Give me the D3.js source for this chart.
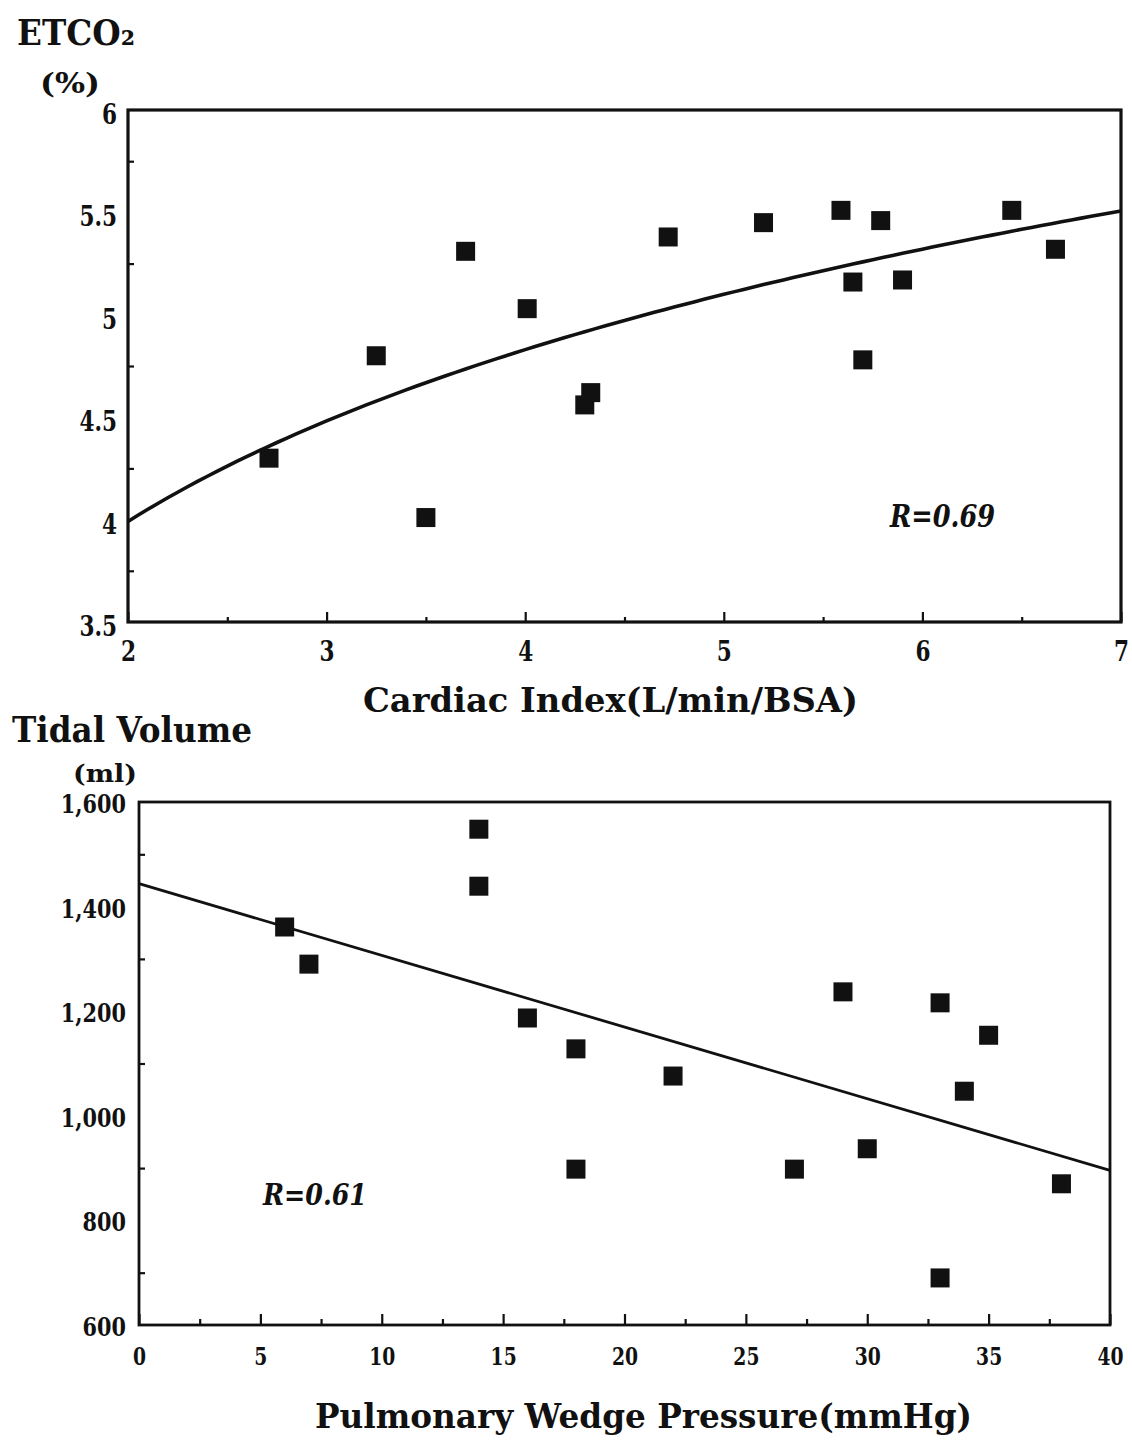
<!DOCTYPE html>
<html>
<head>
<meta charset="utf-8">
<script src="https://cdn.jsdelivr.net/npm/d3@7"></script>
<style>
  html, body { margin: 0; padding: 0; background: #fff; }
  svg { display: block; }
  text { font-family: "DejaVu Serif", serif; font-weight: bold; fill: #111; }
</style>
</head>
<body>
<svg id="chart" width="1132" height="1441"></svg>
<script>
// ---- Panel A: end-tidal CO2 against cardiac index ----
const cardiacIndex = [2.71, 3.25, 3.50, 3.70, 4.01, 4.30, 4.33, 4.72, 5.20, 5.59, 5.65, 5.70, 5.79, 5.90, 6.45, 6.67];
const etco2        = [4.30, 4.80, 4.01, 5.31, 5.03, 4.56, 4.62, 5.38, 5.45, 5.51, 5.16, 4.78, 5.46, 5.17, 5.51, 5.32];
const ciTicks      = [2, 3, 4, 5, 6, 7];
const ciMinorTicks = [2.5, 3.5, 4.5, 5.5, 6.5];
const etco2Ticks   = [3.5, 4, 4.5, 5, 5.5, 6];
const etco2Minor   = [3.75, 4.25, 4.75, 5.25, 5.75];
const ciTitle      = "Cardiac Index(L/min/BSA)";
const etco2Title   = "ETCO\u2082";
const etco2Unit    = "(%)";
const rTextA       = "R=0.69";

// ---- Panel B: tidal volume against pulmonary wedge pressure ----
const wedgePressure = [6, 7, 14, 14, 16, 18, 18, 22, 27, 29, 30, 33, 33, 34, 35, 38];
const tidalVolume   = [1361, 1290, 1548, 1439, 1187, 1128, 898, 1076, 898, 1237, 937, 1216, 690, 1047, 1154, 870];
const pwpTicks      = [0, 5, 10, 15, 20, 25, 30, 35, 40];
const pwpMinor      = [2.5, 7.5, 12.5, 17.5, 22.5, 27.5, 32.5, 37.5];
const tvTicks       = [600, 800, 1000, 1200, 1400, 1600];
const tvTickLabels  = ["600", "800", "1,000", "1,200", "1,400", "1,600"];
const tvMinor       = [700, 900, 1100, 1300, 1500];
const pwpTitle      = "Pulmonary Wedge Pressure(mmHg)";
const tvTitle       = "Tidal Volume";
const tvUnit        = "(ml)";
const rTextB        = "R=0.61";

const svg = d3.select("#chart");
const ink = "#111";

// least-squares fit of y = a + b*x
function linearFit(xs, ys) {
  const mx = d3.mean(xs), my = d3.mean(ys);
  let sxy = 0, sxx = 0;
  xs.forEach((x, i) => { sxy += (x - mx) * (ys[i] - my); sxx += (x - mx) * (x - mx); });
  const b = sxy / sxx;
  return { a: my - b * mx, b };
}

// compress glyphs horizontally to mimic the narrow typeface
function squeeze(sel, k) {
  sel.each(function () {
    const w = this.getComputedTextLength();
    d3.select(this).attr("textLength", w * k).attr("lengthAdjust", "spacingAndGlyphs");
  });
}

function label(txt, x, y, size, width, opts = {}) {
  const t = svg.append("text")
    .attr("x", x).attr("y", y)
    .attr("font-size", size)
    .attr("text-anchor", opts.anchor || "start")
    .style("font-style", opts.italic ? "italic" : "normal")
    .text(txt);
  if (width) t.attr("textLength", width).attr("lengthAdjust", "spacingAndGlyphs");
  return t;
}

function styleAxis(g, size, k, dy) {
  g.select(".domain").remove();
  g.selectAll(".tick line").attr("stroke", ink).attr("stroke-width", 2.2);
  const t = g.selectAll(".tick text")
    .attr("font-size", size)
    .attr("fill", ink)
    .style("font-family", '"DejaVu Serif", serif')
    .style("font-weight", "bold");
  if (dy) t.attr("dy", dy);
  squeeze(t, k);
}

// ================= Panel A =================
const xA = d3.scaleLinear().domain([2, 7]).range([128, 1121]);
const yA = d3.scaleLinear().domain([3.5, 6]).range([622, 110]);

// bottom axis: inward major ticks with labels
const axA = svg.append("g").attr("transform", `translate(0,${yA(3.5)})`)
  .call(d3.axisBottom(xA).tickValues(ciTicks).tickSizeInner(-10).tickSizeOuter(0)
    .tickPadding(20).tickFormat(d3.format("d")));
styleAxis(axA, 27, 0.8);
svg.append("g").attr("transform", `translate(0,${yA(3.5)})`)
  .call(d3.axisBottom(xA).tickValues(ciMinorTicks).tickSizeInner(-5).tickSizeOuter(0).tickFormat(""))
  .call(g => styleAxis(g, 1, 1));

// left axis: labels at whole/half units, minor ticks between them
const ayA = svg.append("g").attr("transform", `translate(${xA(2)},0)`)
  .call(d3.axisLeft(yA).tickValues(etco2Ticks).tickSize(0).tickPadding(11)
    .tickFormat(d => d3.format("")(d)));
styleAxis(ayA, 27, 0.8, "0.5em");
svg.append("g").attr("transform", `translate(${xA(2)},0)`)
  .call(d3.axisLeft(yA).tickValues(etco2Minor).tickSizeInner(-6).tickSizeOuter(0).tickFormat(""))
  .call(g => styleAxis(g, 1, 1));

// frame
svg.append("rect")
  .attr("x", xA(2)).attr("y", yA(6))
  .attr("width", xA(7) - xA(2)).attr("height", yA(3.5) - yA(6))
  .attr("fill", "none").attr("stroke", ink).attr("stroke-width", 3.2);

// logarithmic regression curve
const fitA = linearFit(cardiacIndex.map(Math.log), etco2);
const curveA = d3.range(2, 7.0001, 0.05).map(v => [v, fitA.a + fitA.b * Math.log(v)]);
svg.append("path")
  .datum(curveA)
  .attr("fill", "none").attr("stroke", ink).attr("stroke-width", 3.6)
  .attr("d", d3.line().x(d => xA(d[0])).y(d => yA(d[1])));

// data points
const sq = 19;
svg.append("g").selectAll("rect")
  .data(cardiacIndex.map((v, i) => [v, etco2[i]]))
  .join("rect")
  .attr("x", d => xA(d[0]) - sq / 2).attr("y", d => yA(d[1]) - sq / 2)
  .attr("width", sq).attr("height", sq).attr("fill", ink);

// titles
label(etco2Title, 17, 45, 36, 118);
label(etco2Unit, 40, 93, 27, 60);
label(ciTitle, 363, 712, 33, 495);
label(rTextA, 890, 527, 32, 105, { italic: true });

// ================= Panel B =================
const xB = d3.scaleLinear().domain([0, 40]).range([139, 1110]);
const yB = d3.scaleLinear().domain([600, 1600]).range([1325, 802]);

const axB = svg.append("g").attr("transform", `translate(0,${yB(600)})`)
  .call(d3.axisBottom(xB).tickValues(pwpTicks).tickSizeInner(-11).tickSizeOuter(0)
    .tickPadding(23).tickFormat(d3.format("d")));
styleAxis(axB, 24, 0.78);
svg.append("g").attr("transform", `translate(0,${yB(600)})`)
  .call(d3.axisBottom(xB).tickValues(pwpMinor).tickSizeInner(-6).tickSizeOuter(0).tickFormat(""))
  .call(g => styleAxis(g, 1, 1));

const ayB = svg.append("g").attr("transform", `translate(${xB(0)},0)`)
  .call(d3.axisLeft(yB).tickValues(tvTicks).tickSize(0).tickPadding(13)
    .tickFormat((d, i) => tvTickLabels[i]));
styleAxis(ayB, 26, 0.8, "0.4em");
svg.append("g").attr("transform", `translate(${xB(0)},0)`)
  .call(d3.axisLeft(yB).tickValues(tvMinor).tickSizeInner(-6).tickSizeOuter(0).tickFormat(""))
  .call(g => styleAxis(g, 1, 1));

svg.append("rect")
  .attr("x", xB(0)).attr("y", yB(1600))
  .attr("width", xB(40) - xB(0)).attr("height", yB(600) - yB(1600))
  .attr("fill", "none").attr("stroke", ink).attr("stroke-width", 2.8);

// linear regression line
const fitB = linearFit(wedgePressure, tidalVolume);
svg.append("path")
  .datum([0, 40].map(v => [v, fitB.a + fitB.b * v]))
  .attr("fill", "none").attr("stroke", ink).attr("stroke-width", 2.8)
  .attr("d", d3.line().x(d => xB(d[0])).y(d => yB(d[1])));

svg.append("g").selectAll("rect")
  .data(wedgePressure.map((v, i) => [v, tidalVolume[i]]))
  .join("rect")
  .attr("x", d => xB(d[0]) - sq / 2).attr("y", d => yB(d[1]) - sq / 2)
  .attr("width", sq).attr("height", sq).attr("fill", ink);

label(tvTitle, 12, 742, 36, 240);
label(tvUnit, 73, 782, 25, 64);
label(pwpTitle, 315, 1428, 34, 657);
label(rTextB, 263, 1205, 30, 104, { italic: true });
</script>
</body>
</html>
